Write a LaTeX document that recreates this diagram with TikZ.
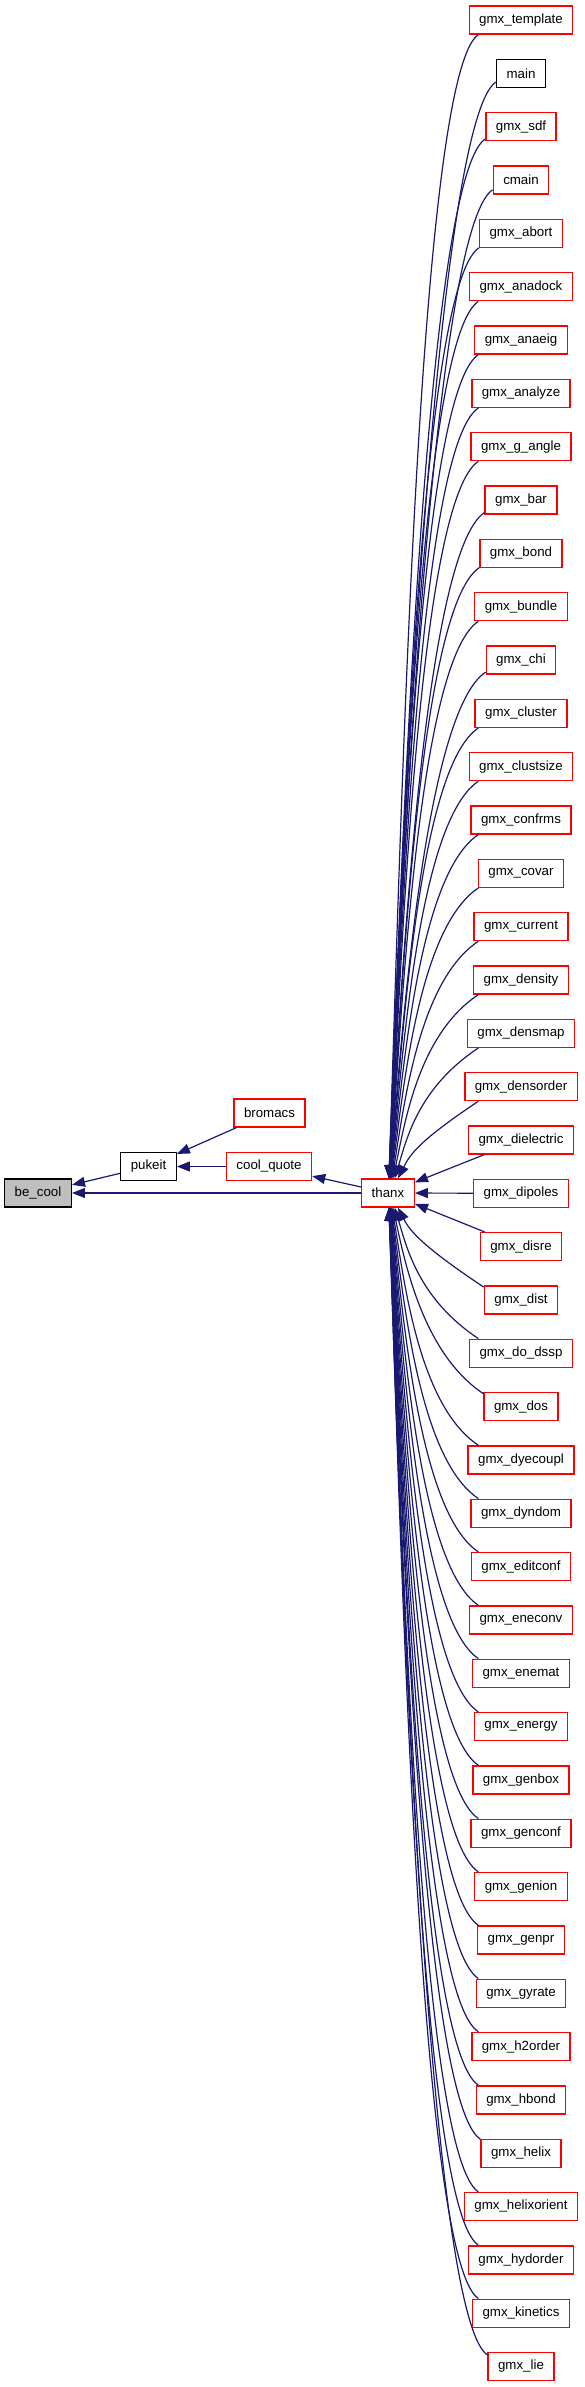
\documentclass[tikz,border=0pt]{standalone}
\usepackage{fontspec}
\setmainfont{Liberation Sans}
\usetikzlibrary{arrows.meta}
\definecolor{edgeblue}{HTML}{191970}
\definecolor{nodegray}{HTML}{BFBFBF}

\begin{document}
\begin{tikzpicture}[x=1pt,y=1pt,
  box/.style={draw=red,line width=1.4pt,fill=white,minimum height=28pt,
    inner xsep=10pt,inner ysep=0pt,font=\fontsize{13.3}{16}\selectfont},
  plainbox/.style={box,draw=black},
  edge/.style={edgeblue,line width=1.2pt,-{Triangle[length=13pt,width=10pt]}}]
  \useasboundingbox (0,0) rectangle (584,-2387);

  \node[plainbox,fill=nodegray] (becool) at (38,-1193) {be\_cool};
  \node[plainbox] (pukeit) at (148.5,-1166.5) {pukeit};
  \node[box] (bromacs) at (269.5,-1113) {bromacs};
  \node[box] (coolquote) at (269,-1166.5) {cool\_quote};
  \node[box] (thanx) at (388,-1193) {thanx};

  \foreach \name [count=\i from 0] in {gmx\_template, main, gmx\_sdf, cmain,
      gmx\_abort, gmx\_anadock, gmx\_anaeig, gmx\_analyze, gmx\_g\_angle,
      gmx\_bar, gmx\_bond, gmx\_bundle, gmx\_chi, gmx\_cluster, gmx\_clustsize,
      gmx\_confrms, gmx\_covar, gmx\_current, gmx\_density, gmx\_densmap,
      gmx\_densorder, gmx\_dielectric, gmx\_dipoles, gmx\_disre, gmx\_dist,
      gmx\_do\_dssp, gmx\_dos, gmx\_dyecoupl, gmx\_dyndom, gmx\_editconf,
      gmx\_eneconv, gmx\_enemat, gmx\_energy, gmx\_genbox, gmx\_genconf,
      gmx\_genion, gmx\_genpr, gmx\_gyrate, gmx\_h2order, gmx\_hbond,
      gmx\_helix, gmx\_helixorient, gmx\_hydorder, gmx\_kinetics, gmx\_lie} {
    \ifnum\i=1 \def\look{plainbox}\else\def\look{box}\fi
    \node[\look] (r\i) at (521,{-20-53.33*\i}) {\name};
  }

  \draw[edge] (pukeit) -- (becool);
  \draw[edge] (bromacs) -- (pukeit);
  \draw[edge] (coolquote) -- (pukeit);
  \draw[edge] (thanx) -- (coolquote);
  \draw[edge] (thanx) -- (becool);

  % callers of thanx, curving in from above and below
  \foreach \i in {0,...,44} {
    \pgfmathtruncatemacro\k{abs(\i-22)}
    \pgfmathsetmacro\cb{0.3*(53.33*\k-28)}
    \pgfmathsetmacro\dx{20/max(\k,1)}
    \ifnum\k<2
      \draw[edge] (r\i) -- (thanx);
    \else
      \ifnum\i<22
        \draw[edge] (r\i.199) .. controls +(-60,-40) and +(12,\cb)
          .. ([xshift=\dx pt]thanx.north);
      \else
        \draw[edge] (r\i.161) .. controls +(-60,40) and +(12,-\cb)
          .. ([xshift=\dx pt]thanx.south);
      \fi
    \fi
  }
\end{tikzpicture}
\end{document}
